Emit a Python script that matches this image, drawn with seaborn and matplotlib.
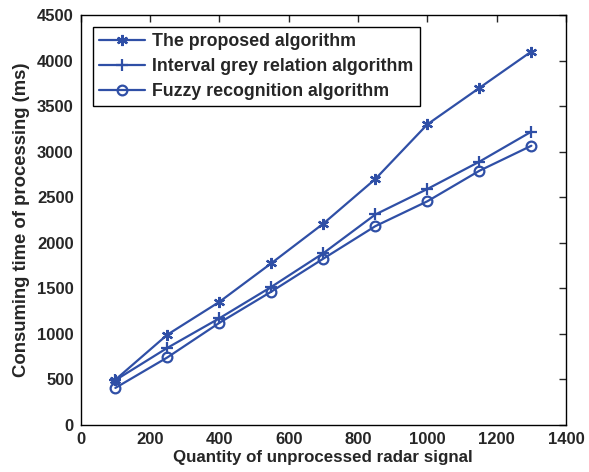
import matplotlib
matplotlib.use("Agg")
import matplotlib.pyplot as plt
import seaborn as sns
import pandas as pd

quantity = [100, 250, 400, 550, 700, 850, 1000, 1150, 1300]
proposed = [495, 990, 1350, 1775, 2210, 2700, 3300, 3700, 4100]
interval_grey = [490, 845, 1170, 1515, 1885, 2310, 2590, 2890, 3220]
fuzzy = [405, 740, 1120, 1463, 1825, 2182, 2455, 2790, 3065]
series_names = ["The proposed algorithm", "Interval grey relation algorithm",
                "Fuzzy recognition algorithm"]
x_ticks = [0, 200, 400, 600, 800, 1000, 1200, 1400]
y_ticks = [0, 500, 1000, 1500, 2000, 2500, 3000, 3500, 4000, 4500]

sns.set_style("white")
plt.rcParams['font.family'] = ['Liberation Sans', 'DejaVu Sans']
plt.rcParams['font.weight'] = 'bold'

df = pd.DataFrame({
    "q": quantity * 3,
    "t": proposed + interval_grey + fuzzy,
    "s": [series_names[0]] * len(quantity) + [series_names[1]] * len(quantity)
         + [series_names[2]] * len(quantity),
})

color = "#2f4fa6"
fig = plt.figure(figsize=(5.89, 4.72), dpi=100)
ax = fig.add_axes([0.137, 0.1, 0.824, 0.868])

markers = {series_names[0]: (6, 2, 0), series_names[1]: "+", series_names[2]: "o"}
msizes = {series_names[0]: 8, series_names[1]: 9, series_names[2]: 7}
for name in series_names:
    sub = df[df["s"] == name]
    sns.lineplot(data=sub, x="q", y="t", ax=ax, color=color, lw=1.6,
                 marker=markers[name], markersize=msizes[name],
                 markerfacecolor="none", markeredgecolor=color,
                 markeredgewidth=1.6, label=name)

ax.set_xlim(0, 1400)
ax.set_ylim(0, 4500)
ax.set_xticks(x_ticks)
ax.set_yticks(y_ticks)
ax.tick_params(direction="in", length=5, width=1, labelsize=12, top=True, right=True,
               labeltop=False, labelright=False, pad=5)
for lab in ax.get_xticklabels() + ax.get_yticklabels():
    lab.set_fontweight("bold")
for sp in ax.spines.values():
    sp.set_color("black")
    sp.set_linewidth(1)
ax.set_xlabel("Quantity of unprocessed radar signal", fontsize=12.2, fontweight="bold", labelpad=2)
ax.set_ylabel("Consuming time of processing (ms)", fontsize=13.3, fontweight="bold", labelpad=5)

leg = ax.legend(loc="upper left", bbox_to_anchor=(0.025, 0.971), borderaxespad=0,
                frameon=True, fancybox=False, edgecolor="black", framealpha=1,
                prop={"weight": "bold", "size": 12.8}, handlelength=2.6,
                borderpad=0.35, labelspacing=0.45, handletextpad=0.4)
leg.get_frame().set_linewidth(1)

fig.savefig("out.png", dpi=100)
